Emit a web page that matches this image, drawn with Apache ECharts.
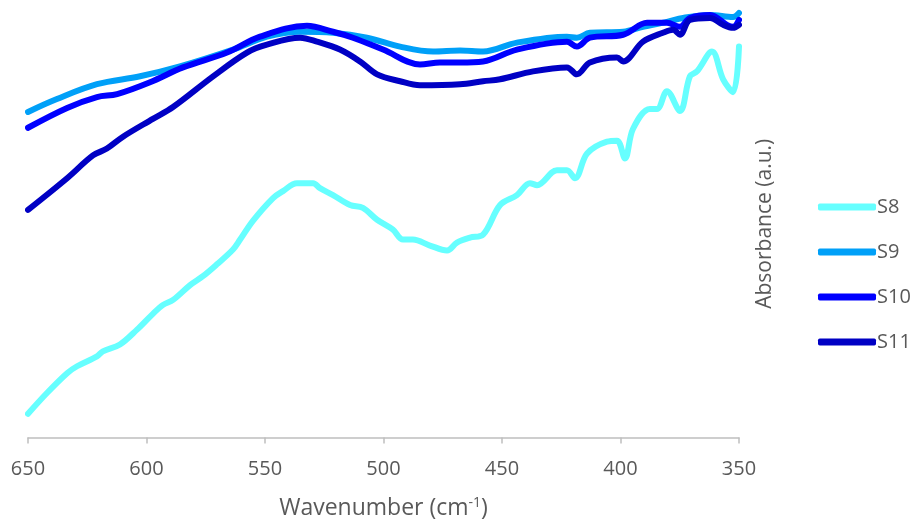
<!DOCTYPE html>
<html>
<head>
<meta charset="utf-8">
<script src="https://cdn.jsdelivr.net/npm/echarts@6/dist/echarts.min.js"></script>
<style>html,body{margin:0;padding:0;background:#fff;}#c{width:917px;height:525px;}</style>
</head>
<body>
<div id="c"></div>
<script>
var seriesNames = ['S8', 'S9', 'S10', 'S11'];
var xTicks = [650, 600, 550, 500, 450, 400, 350];

var s8Wave = [650, 642.0, 633.5, 629.3, 620.9, 618.4, 611.2, 604.0, 597.3, 593.0, 588.8, 581.6, 576.2, 570.3, 563.5, 560.5, 555.1, 546.6, 542.4, 536.5, 529.7, 526.8, 521.3, 514.1, 508.7, 502.7, 496.0, 491.8, 487.6, 480.4, 473.2, 469.0, 463.5, 458.0, 450.8, 443.7, 438.2, 435.2, 426.8, 422.6, 419.2, 414.1, 405.7, 401.5, 398.1, 394.7, 387.6, 384.6, 380.4, 374.9, 370.7, 367.7, 361.4, 356.7, 352.5, 350];
var s8Abs = [0.24, 0.45, 0.65, 0.72, 0.82, 0.87, 0.94, 1.09, 1.25, 1.34, 1.39, 1.54, 1.63, 1.75, 1.90, 2.00, 2.19, 2.42, 2.49, 2.57, 2.57, 2.52, 2.45, 2.35, 2.32, 2.20, 2.10, 2.00, 2.00, 1.94, 1.89, 1.97, 2.02, 2.05, 2.35, 2.45, 2.57, 2.55, 2.70, 2.70, 2.62, 2.87, 2.99, 3.00, 2.82, 3.12, 3.32, 3.32, 3.50, 3.30, 3.65, 3.70, 3.90, 3.62, 3.49, 3.95];

var s9Wave = [650, 637.8, 620.9, 602.7, 585.9, 563.5, 549.2, 535.2, 521.3, 507.0, 493.0, 479.1, 467.7, 458.0, 443.7, 422.6, 418.4, 412.9, 398.9, 390.5, 380.4, 373.6, 362.2, 352.5, 350];
var s9Abs = [3.29, 3.42, 3.57, 3.65, 3.75, 3.92, 4.05, 4.10, 4.09, 4.04, 3.95, 3.90, 3.91, 3.90, 3.99, 4.05, 4.04, 4.09, 4.10, 4.15, 4.20, 4.24, 4.27, 4.25, 4.29];

var s10Wave = [650, 633.5, 620.9, 612.4, 598.5, 584.6, 566.0, 552.1, 532.3, 521.3, 512.9, 500.2, 484.6, 476.2, 467.7, 458.0, 443.7, 422.6, 418.4, 412.9, 398.9, 388.8, 380.4, 374.9, 370.7, 362.2, 355.1, 352.5, 350];
var s10Abs = [3.13, 3.33, 3.44, 3.47, 3.59, 3.74, 3.89, 4.05, 4.16, 4.10, 4.04, 3.92, 3.77, 3.79, 3.79, 3.80, 3.92, 4.00, 3.95, 4.04, 4.07, 4.19, 4.19, 4.15, 4.24, 4.27, 4.17, 4.15, 4.22];

var s11Wave = [650, 633.5, 622.6, 616.7, 609.9, 597.3, 588.8, 571.9, 557.6, 549.2, 535.2, 528.1, 518.4, 509.9, 502.7, 493.0, 484.6, 467.7, 458.0, 450.8, 436.9, 422.6, 418.4, 412.9, 401.5, 398.9, 390.5, 382.1, 377.8, 374.9, 370.7, 362.2, 356.7, 352.5, 350];
var s11Abs = [2.30, 2.62, 2.85, 2.92, 3.04, 3.22, 3.34, 3.65, 3.89, 3.97, 4.04, 4.00, 3.92, 3.80, 3.67, 3.60, 3.56, 3.57, 3.60, 3.62, 3.70, 3.74, 3.67, 3.79, 3.84, 3.80, 4.00, 4.09, 4.12, 4.07, 4.22, 4.24, 4.17, 4.14, 4.17];

var colors = ['#66FFFF', '#00A0F8', '#0000FF', '#0000C4'];

function pairs(w, a) { return w.map(function (v, i) { return [v, a[i]]; }); }
var waves = [s8Wave, s9Wave, s10Wave, s11Wave];
var abss = [s8Abs, s9Abs, s10Abs, s11Abs];

var chart = echarts.init(document.getElementById('c'));
var font = "'Open Sans', 'Noto Sans', sans-serif";
chart.setOption({
  animation: false,
  backgroundColor: '#fff',
  color: colors,
  grid: { left: 28, right: 178, top: 10, bottom: 83, containLabel: false },
  legend: {
    orient: 'vertical',
    left: 818,
    top: 197,
    padding: 0,
    icon: 'roundRect',
    itemWidth: 58,
    itemHeight: 7,
    itemGap: 25,
    data: seriesNames,
    textStyle: { color: '#595959', fontSize: 20, fontFamily: font, lineHeight: 20, padding: [0, 0, 0, -4] }
  },
  xAxis: {
    type: 'value',
    inverse: true,
    min: 350,
    max: 650,
    interval: 50,
    axisLine: { show: true, lineStyle: { color: '#BFBFBF', width: 1.5 } },
    axisTick: { show: true, length: 6, lineStyle: { color: '#BFBFBF', width: 1.5 } },
    axisLabel: { color: '#595959', fontSize: 20, fontFamily: font, margin: 22,
      formatter: function (v) { return xTicks.indexOf(v) >= 0 ? String(v) : ''; } },
    splitLine: { show: false },
    name: '{a|Wavenumber (cm}{s|-1}{a|)}',
    nameLocation: 'middle',
    nameGap: 59,
    nameTextStyle: {
      rich: {
        a: { color: '#595959', fontSize: 23, fontFamily: font },
        s: { color: '#595959', fontSize: 14, fontFamily: font, verticalAlign: 'top', padding: [0, 0, 10, 0] }
      }
    }
  },
  yAxis: {
    type: 'value',
    position: 'right',
    min: 0,
    max: 4.32,
    axisLine: { show: false },
    axisTick: { show: false },
    axisLabel: { show: false },
    splitLine: { show: false },
    name: 'Absorbance (a.u.)',
    nameLocation: 'middle',
    nameRotate: 90,
    nameGap: 16,
    nameTextStyle: { color: '#595959', fontSize: 21, fontFamily: font }
  },
  series: seriesNames.map(function (n, i) {
    return {
      name: n,
      type: 'line',
      data: pairs(waves[i], abss[i]),
      showSymbol: false,
      smooth: 0.35,
      lineStyle: { width: 6, color: colors[i], cap: 'round', join: 'round' },
      itemStyle: { color: colors[i] }
    };
  })
});
</script>
</body>
</html>
